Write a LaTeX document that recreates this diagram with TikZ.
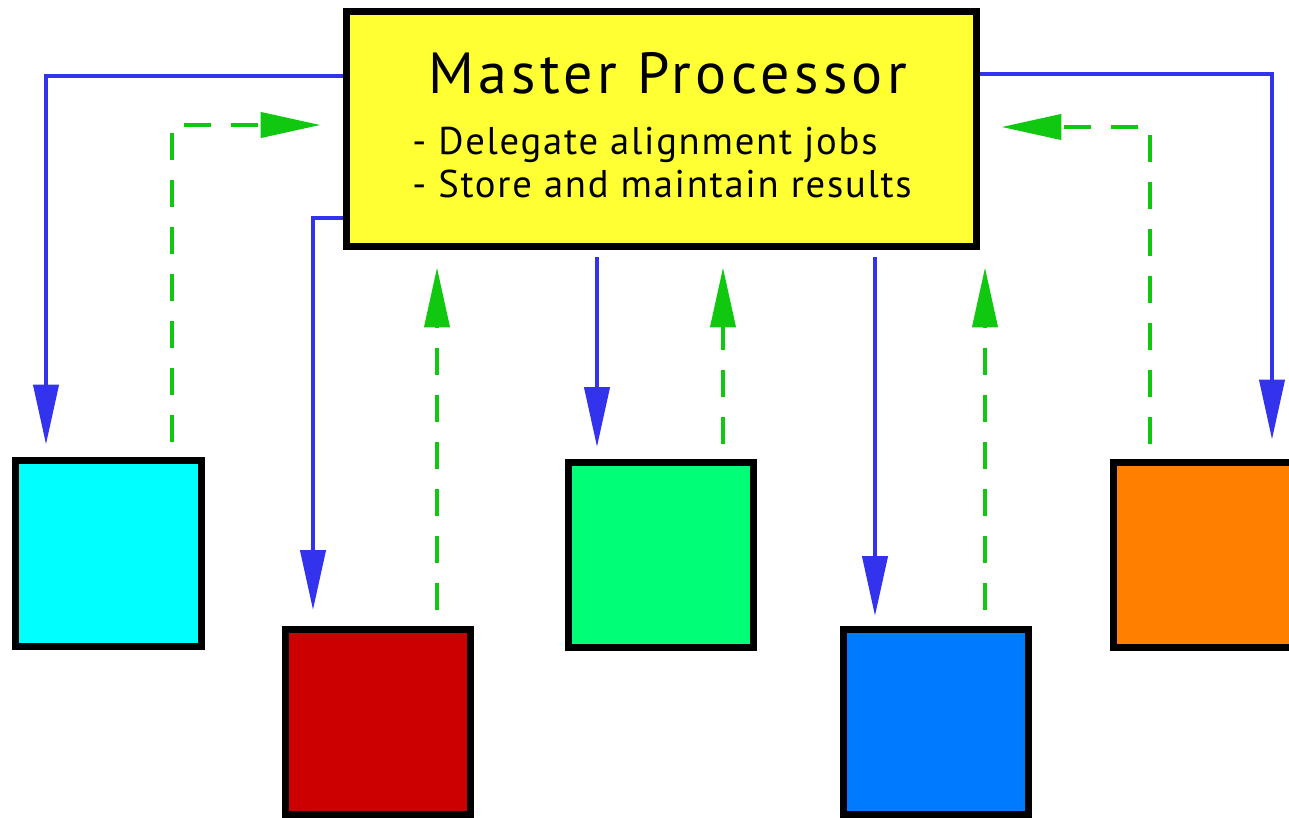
\documentclass[tikz,border=0pt]{standalone}
\usepackage{fontspec}
\newfontfamily\titlefont[LetterSpace=7.5]{PT Sans}
\newfontfamily\bulletfont[LetterSpace=4.5]{PT Sans}
\usetikzlibrary{arrows.meta,calc}
\definecolor{flowblue}{RGB}{51,51,238}
\definecolor{flowgreen}{RGB}{17,200,17}
\definecolor{masteryellow}{RGB}{255,255,51}
\definecolor{wcyan}{RGB}{0,255,255}
\definecolor{wred}{RGB}{204,0,0}
\definecolor{wgreen}{RGB}{0,255,119}
\definecolor{wblue}{RGB}{0,122,255}
\definecolor{worange}{RGB}{255,127,0}
\tikzset{
  worker/.style={draw=black,line width=0.14cm,minimum width=3.72cm,minimum height=3.72cm,inner sep=0pt},
  masterbox/.style={draw=black,line width=0.14cm,fill=masteryellow,minimum width=12.6cm,minimum height=4.7cm,inner sep=0pt},
  jobflow/.style={draw=flowblue,line width=0.085cm,-{Triangle[length=1.2cm,width=0.5cm]}},
  resultflow/.style={draw=flowgreen,line width=0.085cm,dash pattern=on 0.54cm off 0.4cm,-{Triangle[length=1.2cm,width=0.5cm]}},
  titletext/.style={anchor=base west,inner sep=0pt,font=\titlefont\fontsize{33}{36}\selectfont},
  bullettext/.style={anchor=base west,inner sep=0pt,font=\bulletfont\fontsize{22}{26}\selectfont}
}
\begin{document}
\begin{tikzpicture}[x=0.02cm,y=-0.02cm]
\clip (0,0) rectangle (1289,818);
\fill[white] (0,0) rectangle (1289,818);
\node[masterbox] (master) at (661.5,129) {};
\node[titletext] (title) at (428,93) {Master Processor};
\node[bullettext] (line1) at (412,154) {- Delegate alignment jobs};
\node[bullettext] (line2) at (412,197) {- Store and maintain results};
\node[worker,fill=wcyan] (cyan) at (108.5,553.5) {};
\node[worker,fill=wred] (red) at (378,722) {};
\node[worker,fill=wgreen] (green) at (661,555) {};
\node[worker,fill=wblue] (bluebox) at (936,722) {};
\node[worker,fill=worange] (orange) at (1206,555) {};
% jobs (blue)
\draw[jobflow,shorten >=0.25cm] (master.west |- 0,76) -| (cyan.north -| 46,0);
\draw[jobflow,shorten >=0.31cm] (master.west |- 0,218) -| (red.north -| 313,0);
\draw[jobflow,shorten <=0.15cm,shorten >=0.23cm] (master.south -| 597,0) -- (green.north -| 597,0);
\draw[jobflow,shorten <=0.15cm,shorten >=0.19cm] (master.south -| 875,0) -- (bluebox.north -| 875,0);
\draw[jobflow,shorten >=0.38cm] (master.east |- 0,74) -| (orange.north -| 1272,0);
% results (green dashed)
\draw[resultflow,shorten <=0.31cm,shorten >=0.45cm] (cyan.north -| 172,0) |- (master.west |- 0,125);
\draw[resultflow,shorten <=0.31cm,shorten >=0.35cm] (red.north -| 437,0) -- (master.south -| 437,0);
\draw[resultflow,shorten <=0.29cm,shorten >=0.35cm] (green.north -| 723,0) -- (master.south -| 723,0);
\draw[resultflow,shorten <=0.31cm,shorten >=0.35cm] (bluebox.north -| 985,0) -- (master.south -| 985,0);
\draw[resultflow,shorten <=0.29cm,shorten >=0.43cm] (orange.north -| 1150,0) |- (master.east |- 0,127);
\end{tikzpicture}
\end{document}
